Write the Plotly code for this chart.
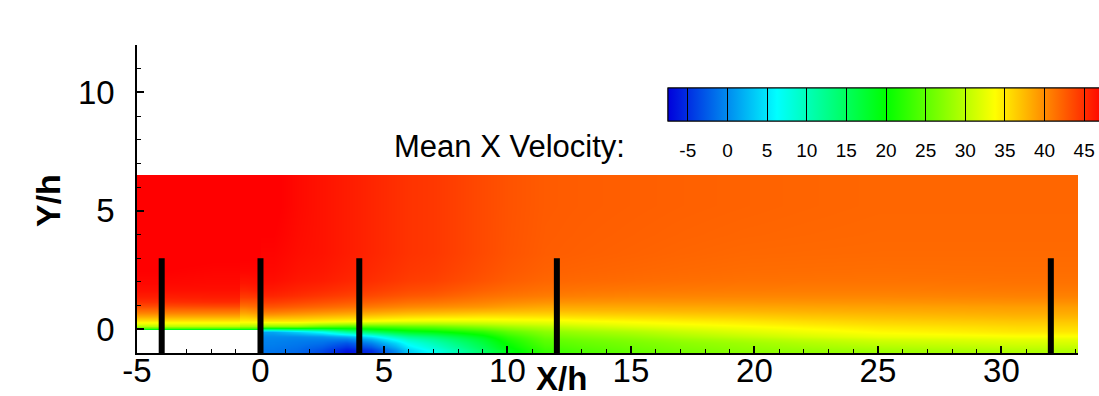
import plotly.graph_objects as go

# ---- mean streamwise velocity, sampled on cells (edges given) ----
# upstream of the step, two zones split at the inlet-block seam (x = -0.8)
x_up_edges = [-5, -3, -0.8]
x_seam_edges = [-0.8, -0.4, 0]
y_up_edges = [0, 0.08, 0.25, 0.45, 0.7, 1.0, 1.4, 2.0, 3.0, 6.5]
u_up = [
    [19, 19],
    [30, 30],
    [34.5, 34.5],
    [38.5, 38.5],
    [42, 42],
    [45, 45.3],
    [46.7, 46.7],
    [47.5, 47.3],
    [48, 47.8],
]
u_seam = [
    [19, 19],
    [29, 29],
    [34, 34],
    [37, 37.5],
    [40, 40.5],
    [43, 43],
    [45.5, 45.8],
    [47.2, 47.2],
    [47.8, 47.8],
]

# downstream of the step
x_down_edges = [0, 1, 2, 3, 4, 5, 6, 8, 10, 13, 17, 22, 28, 33.1]
y_down_edges = [-1, -0.7, -0.4, -0.15, 0.05, 0.25, 0.5, 0.8, 1.2, 1.7, 2.5, 4, 6.5]
u_down = [
    [-1.2, -1.8, -3.5, -6.5, -5, 0, 7, 14.5, 23, 25.5, 27.5, 28.5, 29.5],
    [-0.6, -1, -1.5, -3, -0.5, 4, 10, 16.5, 24.5, 26.5, 28.5, 30.5, 31.5],
    [0, 0, 0.5, 2, 5, 10, 14, 19, 26, 28, 30.5, 32.8, 33.5],
    [1.5, 4, 7, 12, 15, 17.5, 19.5, 22.5, 27.5, 29.5, 32, 34, 35],
    [27, 27, 25, 24, 24, 24.5, 25.5, 27.5, 30, 32, 33.5, 35, 35.8],
    [35, 35, 34.5, 34, 33.5, 33, 32.5, 32.5, 33, 34, 35, 36.2, 36.8],
    [39.5, 39, 38.5, 38, 37.5, 37, 36.5, 36, 36, 36.4, 36.8, 37.5, 38],
    [43, 42.5, 42, 41.5, 41, 40.5, 40, 39.5, 38.5, 38.5, 38.6, 38.8, 39],
    [45.5, 45, 44.5, 44, 43.5, 43, 42.5, 41.5, 40.8, 40.4, 40.3, 40.3, 40.5],
    [46.8, 46.3, 46, 45.5, 45, 44.5, 44, 43, 42, 41.7, 41.4, 41.3, 41.4],
    [47.3, 46.8, 46.5, 46, 45.5, 45, 44.5, 43.5, 42.5, 42.2, 41.9, 41.8, 41.8],
    [47.7, 47, 46.5, 46, 45.5, 45, 44.5, 43.5, 42.6, 42.4, 42.2, 42, 42],
]

# measurement stations (black bars)
probe_x = [-4, 0, 4, 12, 32]
probe_y_bottom = -1
probe_y_top = 3

# axis and legend ticks
x_tick_vals = [-5, 0, 5, 10, 15, 20, 25, 30]
x_tick_text = ["-5", "0", "5", "10", "15", "20", "25", "30"]
y_tick_vals = [0, 5, 10]
y_tick_text = ["0", "5", "10"]
cbar_tick_vals = [-5, 0, 5, 10, 15, 20, 25, 30, 35, 40, 45]
cbar_tick_text = ["-5", "0", "5", "10", "15", "20", "25", "30", "35", "40", "45"]
u_min, u_max = -7.5, 47.5

rainbow = [
    [0.0, "rgb(0,0,220)"],
    [0.25, "rgb(0,255,255)"],
    [0.5, "rgb(0,255,0)"],
    [0.75, "rgb(255,255,0)"],
    [1.0, "rgb(255,0,0)"],
]

# figure geometry (pixels)
W, H = 1099, 396
L, R, T, B = 137, 21, 45, 43
PW, PH = W - L - R, H - T - B


def px_x(p):
    return (p - L) / PW


def px_y(p):
    return (H - B - p) / PH


FONT = "Liberation Sans, Arial, sans-serif"

common = dict(colorscale=rainbow, zmin=u_min, zmax=u_max, zsmooth="best",
              hoverinfo="skip")

cbar_pos = dict(orientation="h", x=px_x(668), xanchor="left", y=px_y(88),
                yanchor="top", lenmode="pixels", len=436,
                thicknessmode="pixels", thickness=33, xpad=0, ypad=0,
                outlinewidth=1, outlinecolor="black",
                tickmode="array", tickvals=cbar_tick_vals)

# labelled colour bar (labels pushed below the bar by invisible ticks)
cbar_labels = dict(cbar_pos, ticktext=cbar_tick_text, ticks="outside",
                   ticklen=13, tickcolor="rgba(0,0,0,0)",
                   tickfont=dict(family=FONT, size=19, color="black"))
# second colour bar on top: level separators drawn across the bar
cbar_lines = dict(cbar_pos, ticks="inside", ticklen=33, tickwidth=1,
                  tickcolor="black", showticklabels=False)

fig = go.Figure()
fig.add_trace(go.Heatmap(x=x_down_edges, y=y_down_edges, z=u_down,
                         showscale=True, colorbar=cbar_labels, **common))
fig.add_trace(go.Heatmap(x=x_up_edges, y=y_up_edges, z=u_up,
                         showscale=False, **common))
fig.add_trace(go.Heatmap(x=x_seam_edges, y=y_up_edges, z=u_seam,
                         showscale=True, colorbar=cbar_lines, **common))

bx, by = [], []
for xp in probe_x:
    bx += [xp, xp, None]
    by += [probe_y_bottom, probe_y_top, None]
fig.add_trace(go.Scatter(x=bx, y=by, mode="lines",
                         line=dict(color="black", width=6),
                         hoverinfo="skip", showlegend=False))

axis_common = dict(showline=True, linecolor="black", linewidth=1.5,
                   ticks="inside", ticklen=7, tickwidth=1.5, tickcolor="black",
                   showgrid=False, zeroline=False, tickmode="array",
                   tickfont=dict(family=FONT, size=33, color="black"))

fig.update_layout(
    width=W, height=H,
    margin=dict(l=L, r=R, t=T, b=B, pad=0, autoexpand=False),
    paper_bgcolor="white", plot_bgcolor="white",
    showlegend=False,
    xaxis=dict(axis_common, range=[-5, 33.1], tickvals=x_tick_vals,
               ticktext=x_tick_text, ticklabelstandoff=-12,
               minor=dict(ticks="inside", ticklen=4, dtick=1, tick0=0,
                          tickcolor="black", tickwidth=1)),
    yaxis=dict(axis_common, range=[-1, 12], tickvals=y_tick_vals,
               ticktext=y_tick_text, ticklabelstandoff=14,
               minor=dict(ticks="inside", ticklen=4, dtick=1, tick0=0,
                          tickcolor="black", tickwidth=1)),
    annotations=[
        dict(text="Mean X Velocity:", xref="paper", yref="paper",
             x=px_x(627), y=px_y(146), xanchor="right", yanchor="middle",
             showarrow=False, font=dict(family=FONT, size=31, color="black")),
        dict(text="<b>X/h</b>", xref="paper", yref="paper",
             x=px_x(561), y=px_y(378), xanchor="center", yanchor="middle",
             showarrow=False, font=dict(family=FONT, size=33, color="black")),
        dict(text="<b>Y/h</b>", xref="paper", yref="paper", textangle=-90,
             x=px_x(48), y=px_y(201), xanchor="center", yanchor="middle",
             showarrow=False, font=dict(family=FONT, size=34, color="black")),
    ],
)

# Snap the smoothed heatmap images to whole pixels so that neighbouring
# zones butt together without an anti-aliased seam between them.
snap_js = """
var gd = document.getElementById('{plot_id}');
function snapZones() {
  gd.querySelectorAll('g.hm image').forEach(function (im) {
    var x = parseFloat(im.getAttribute('x')), w = parseFloat(im.getAttribute('width'));
    var y = parseFloat(im.getAttribute('y')), h = parseFloat(im.getAttribute('height'));
    var x0 = Math.floor(x), x1 = Math.ceil(x + w);
    var y0 = Math.floor(y), y1 = Math.ceil(y + h);
    im.setAttribute('x', x0); im.setAttribute('width', x1 - x0);
    im.setAttribute('y', y0); im.setAttribute('height', y1 - y0);
  });
}
snapZones();
gd.on('plotly_afterplot', snapZones);
"""

fig.write_html("out.html", post_script=snap_js)
